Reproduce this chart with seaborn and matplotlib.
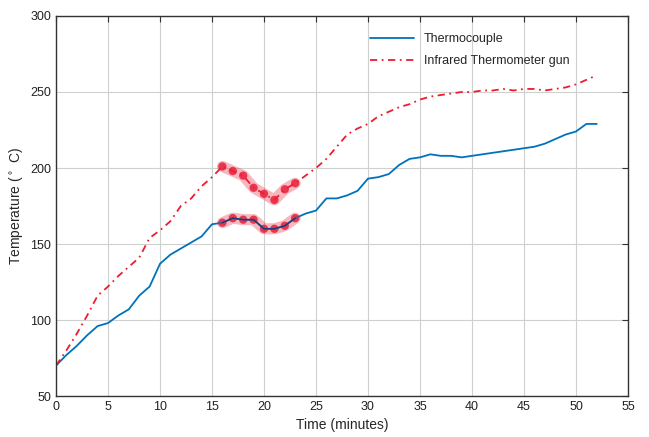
import numpy as np
import pandas as pd
import matplotlib
matplotlib.use("Agg")
from matplotlib import pyplot as plt
import seaborn as sns

minutes = list(range(0, 53))
thermocouple = [70, 77, 83, 90, 96, 98, 103, 107, 116, 122,
                137, 143, 147, 151, 155, 163, 164, 167, 166, 166,
                160, 160, 162, 167, 170, 172, 180, 180, 182, 185,
                193, 194, 196, 202, 206, 207, 209, 208, 208, 207,
                208, 209, 210, 211, 212, 213, 214, 216, 219, 222,
                224, 229, 229]
infrared = [70, 80, 91, 103, 116, 122, 129, 135, 141, 154,
            159, 165, 175, 180, 188, 194, 201, 198, 195, 187,
            183, 179, 186, 190, 195, 200, 206, 214, 222, 226,
            229, 234, 237, 240, 242, 245, 247, 248, 249, 250,
            250, 251, 251, 252, 251, 252, 252, 251, 252, 253,
            255, 258, 261]
hl_start, hl_end = 16, 23

df = pd.DataFrame({'t': minutes, 'tc': thermocouple, 'ir': infrared})
hl = df[(df.t >= hl_start) & (df.t <= hl_end)]

sns.set_style('white')
plt.rcParams['font.family'] = ['Liberation Sans', 'DejaVu Sans']

fig = plt.figure(figsize=(6.49, 4.37), dpi=100)
ax = fig.add_axes([0.0863, 0.0938, 0.8813, 0.8696])

blue = '#0072BD'
red = '#EE1C2E'

sns.lineplot(x='t', y='tc', data=df, ax=ax, color=blue, lw=1.3, label='Thermocouple')
sns.lineplot(x='t', y='ir', data=df, ax=ax, color=red, lw=1.3,
             linestyle=(0, (4, 2.5, 1, 2.5)), label='Infrared Thermometer gun')

# highlighted region
for col in ['tc', 'ir']:
    sns.lineplot(x='t', y=col, data=hl, ax=ax, color='#e8203a', lw=8, alpha=0.32,
                 solid_capstyle='round', legend=False)
    sns.scatterplot(x='t', y=col, data=hl, ax=ax, color='#e8203a', s=36,
                    edgecolor='none', alpha=0.85, legend=False)
sns.lineplot(x='t', y='tc', data=hl, ax=ax, color='#1f3a6e', lw=1.0, legend=False)

ax.set_xlim(0, 55)
ax.set_ylim(50, 300)
ax.set_xticks(range(0, 56, 5))
ax.set_yticks(range(50, 301, 50))
ax.grid(True, color='#d0d0d0', lw=0.8)
ax.tick_params(direction='in', length=4, top=True, right=True, labelsize=9,
               color='#333333', labelcolor='#222222')
for s in ax.spines.values():
    s.set_color('#333333')
    s.set_linewidth(1.0)
ax.set_xlabel('Time (minutes)', fontsize=10)
ax.set_ylabel('Temperature ($^\\circ$ C)', fontsize=10)
ax.legend(loc='upper left', bbox_to_anchor=(0.53, 0.985), frameon=False,
          fontsize=9, handlelength=3.5, labelspacing=0.8)

fig.savefig('out.png', dpi=100)
